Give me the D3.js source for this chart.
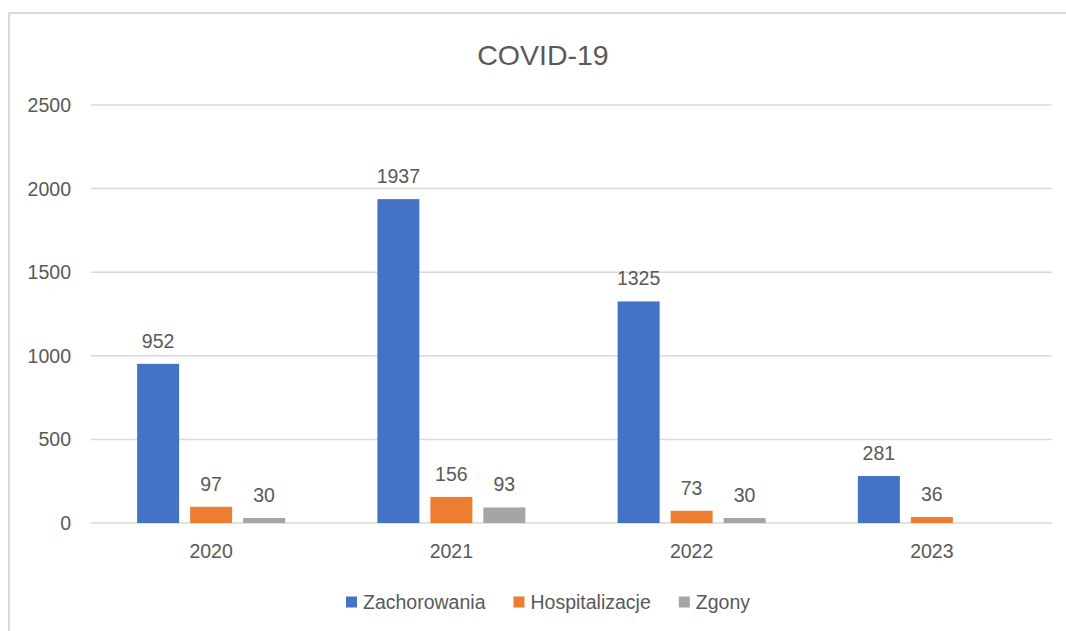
<!DOCTYPE html>
<html>
<head>
<meta charset="utf-8">
<script src="https://cdn.jsdelivr.net/npm/d3@7"></script>
<style>
  html, body { margin: 0; padding: 0; background: #fff; }
  svg { display: block; }
  text { font-family: "Liberation Sans", Arial, sans-serif; fill: #595959; }
</style>
</head>
<body>
<svg id="chart" width="1066" height="631"></svg>
<script>
const categories = ["2020", "2021", "2022", "2023"];
const seriesNames = ["Zachorowania", "Hospitalizacje", "Zgony"];
const zachorowania = [952, 1937, 1325, 281];
const hospitalizacje = [97, 156, 73, 36];
const zgony = [30, 93, 30, null];
const yTicks = [0, 500, 1000, 1500, 2000, 2500];
const colors = ["#4472C4", "#ED7D31", "#A5A5A5"];
const title = "COVID-19";

const seriesValues = [zachorowania, hospitalizacje, zgony];
const W = 1066, H = 631;
const svg = d3.select("#chart");

// chart border (cropped at right/bottom)
svg.append("rect")
  .attr("x", 9).attr("y", 13).attr("width", 1080).attr("height", 650)
  .attr("fill", "none").attr("stroke", "#d9d9d9").attr("stroke-width", 2);

const plot = { left: 91, right: 1052, top: 105, bottom: 523 };

const x0 = d3.scaleBand().domain(categories).range([plot.left, plot.right]).paddingInner(0).paddingOuter(0);
const y = d3.scaleLinear().domain([0, 2500]).range([plot.bottom, plot.top]);

// gridlines
svg.append("g").selectAll("line").data(yTicks).join("line")
  .attr("x1", plot.left).attr("x2", plot.right)
  .attr("y1", d => y(d)).attr("y2", d => y(d))
  .attr("stroke", "#d9d9d9").attr("stroke-width", 1.5);

// y axis labels
svg.append("g").selectAll("text").data(yTicks).join("text")
  .attr("x", 71).attr("y", d => y(d)).attr("dy", "0.36em")
  .attr("text-anchor", "end").attr("font-size", 19.5)
  .text(d => d);

// bars
const barW = 42, barGap = 11;
const groupW = barW * 3 + barGap * 2;
const x1 = d3.scaleBand().domain(seriesNames).range([0, groupW]).paddingInner(barGap / (barW + barGap)).paddingOuter(0);

const data = [];
categories.forEach((c, i) => {
  seriesNames.forEach((s, j) => {
    const v = seriesValues[j][i];
    if (v !== null && v !== undefined) data.push({ c, s, v, j });
  });
});

const gx = c => x0(c) + (x0.bandwidth() - groupW) / 2;

svg.append("g").selectAll("rect").data(data).join("rect")
  .attr("x", d => gx(d.c) + x1(d.s))
  .attr("y", d => y(d.v))
  .attr("width", x1.bandwidth())
  .attr("height", d => y(0) - y(d.v))
  .attr("fill", d => colors[d.j]);

// value labels
svg.append("g").selectAll("text").data(data).join("text")
  .attr("x", d => gx(d.c) + x1(d.s) + x1.bandwidth() / 2)
  .attr("y", d => y(d.v) - 16)
  .attr("text-anchor", "middle").attr("font-size", 19.5)
  .text(d => d.v);

// x axis labels
svg.append("g").selectAll("text").data(categories).join("text")
  .attr("x", d => x0(d) + x0.bandwidth() / 2)
  .attr("y", 558)
  .attr("text-anchor", "middle").attr("font-size", 19.5)
  .text(d => d);

// title
svg.append("text")
  .attr("x", 543).attr("y", 65)
  .attr("text-anchor", "middle").attr("font-size", 28.5)
  .text(title);

// legend
const legend = svg.append("g");
const items = legend.selectAll("g").data(seriesNames).join("g");
items.append("rect").attr("width", 11).attr("height", 11).attr("y", -5.5)
  .attr("fill", (d, i) => colors[i]);
items.append("text").attr("x", 17).attr("dy", "0.36em").attr("font-size", 19.5).text(d => d);
let offs = 0;
const positions = [];
items.each(function () {
  const w = 17 + this.querySelector("text").getComputedTextLength();
  positions.push(offs);
  offs += w + 28;
});
const totalW = offs - 28;
const startX = 548 - totalW / 2;
items.attr("transform", (d, i) => `translate(${startX + positions[i]},602)`);
</script>
</body>
</html>
